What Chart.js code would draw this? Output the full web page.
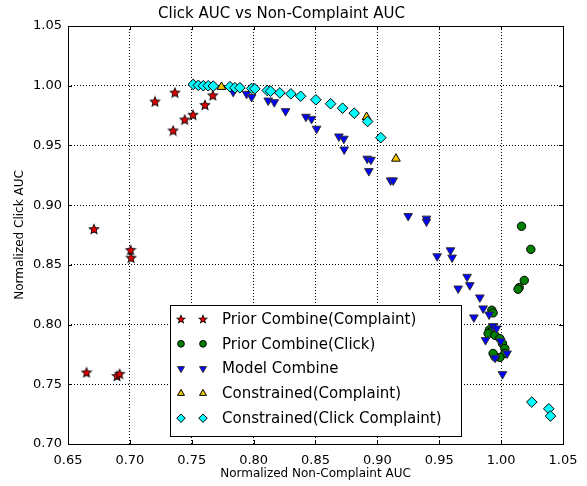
<!DOCTYPE html>
<html>
<head>
<meta charset="utf-8">
<script src="https://cdn.jsdelivr.net/npm/chart.js@4/dist/chart.umd.min.js"></script>
<style>
    html, body { margin: 0; padding: 0; background: #fff; }
    #wrap { width: 587px; height: 486px; }
</style>
</head>
<body>
<div id="wrap"><canvas id="canvChart" width="587" height="486"></canvas></div>
<script>
// Prior Combine(Complaint)
var priorComplaintX = [0.665, 0.671, 0.6896, 0.6917, 0.7006, 0.701, 0.7203, 0.735, 0.7364, 0.7443, 0.751, 0.7607, 0.767];
var priorComplaintY = [0.760, 0.880, 0.757, 0.7588, 0.8625, 0.856, 0.9868, 0.9625, 0.9943, 0.9717, 0.9757, 0.984, 0.992];

// Prior Combine(Click)
var priorClickX = [1.0165, 1.024, 1.0187, 1.0146, 1.0137, 0.9925, 0.9935, 0.9905, 0.9917, 0.9895, 0.995, 0.999, 1.0011, 1.003, 1.003, 0.999, 0.995, 0.9935];
var priorClickY = [0.8823, 0.863, 0.837, 0.831, 0.8296, 0.812, 0.8098, 0.7955, 0.7939, 0.7925, 0.791, 0.7883, 0.7841, 0.780, 0.7758, 0.7725, 0.773, 0.7758];

// Model Combine
var modelX = [0.7835, 0.7943, 0.7984, 0.8118, 0.8167, 0.8258, 0.8423, 0.8468, 0.8509, 0.8689, 0.8729, 0.8732, 0.8918, 0.8948, 0.8931, 0.9107, 0.9128, 0.9249, 0.9397, 0.9397, 0.9483, 0.9591, 0.9604, 0.9725, 0.9653, 0.9747, 0.9828, 0.9855, 0.978, 0.9903, 0.9935, 0.9963, 0.9874, 0.9997, 1.0048, 0.9951, 1.0011];
var modelY = [0.9948, 0.9932, 0.9905, 0.9876, 0.9862, 0.9787, 0.974, 0.9722, 0.964, 0.9575, 0.9556, 0.9466, 0.9389, 0.938, 0.9285, 0.9207, 0.9207, 0.8909, 0.8887, 0.8862, 0.8572, 0.8622, 0.8561, 0.84, 0.8302, 0.833, 0.8227, 0.8135, 0.806, 0.8084, 0.7987, 0.7967, 0.787, 0.7861, 0.7758, 0.7722, 0.7585];

// Constrained(Complaint)
var consComplaintX = [0.774, 0.8913, 0.915];
var consComplaintY = [0.999, 0.9738, 0.9389];

// Constrained(Click Complaint)
var consClickX = [0.7512, 0.7553, 0.7593, 0.7633, 0.7674, 0.7809, 0.7849, 0.7889, 0.7984, 0.801, 0.811, 0.8137, 0.8212, 0.8301, 0.838, 0.8503, 0.8622, 0.8719, 0.8813, 0.8921, 0.9028, 1.0248, 1.0385, 1.0399];
var consClickY = [1.0011, 1.0003, 1.000, 1.000, 0.9997, 0.9992, 0.9983, 0.9983, 0.9977, 0.9974, 0.996, 0.9954, 0.994, 0.9932, 0.9912, 0.9882, 0.9849, 0.9812, 0.977, 0.970, 0.9565, 0.7351, 0.7295, 0.7234];

var seriesLabels = ['Prior Combine(Complaint)', 'Prior Combine(Click)', 'Model Combine', 'Constrained(Complaint)', 'Constrained(Click Complaint)'];

var FONT = "'DejaVu Sans', 'Liberation Sans', sans-serif";
var _chart;

function toPoints(xs, ys) {
    var pts = [];
    for (var i = 0; i < xs.length; i++) {
        pts.push({x: xs[i], y: ys[i]});
    }
    return pts;
}

// filled five point star, like matplotlib's '*' marker
function buildStar(size, ro) {
    var c = document.createElement('canvas');
    c.width = size;
    c.height = size;
    var ctx = c.getContext('2d');
    var cx = size / 2, cy = size / 2 + 0.4, ri = ro * 0.45;
    ctx.beginPath();
    for (var i = 0; i < 10; i++) {
        var r = (i % 2 === 0) ? ro : ri;
        var a = -Math.PI / 2 + i * Math.PI / 5;
        var px = cx + r * Math.cos(a), py = cy + r * Math.sin(a);
        if (i === 0) ctx.moveTo(px, py); else ctx.lineTo(px, py);
    }
    ctx.closePath();
    ctx.lineJoin = 'miter';
    ctx.lineWidth = 1.6;
    ctx.strokeStyle = '#000';
    ctx.stroke();
    ctx.fillStyle = '#e00000';
    ctx.fill();
    return c;
}

var starImg = buildStar(12, 4.1);
var starImgSmall = buildStar(10, 3.2);

function buildDatasets() {
    return [{
        label: seriesLabels[0],
        data: toPoints(priorComplaintX, priorComplaintY),
        pointStyle: starImg,
        legendStyle: starImgSmall,
        pointRadius: 5,
        order: 5
    }, {
        label: seriesLabels[1],
        data: toPoints(priorClickX, priorClickY),
        pointStyle: 'circle',
        pointRadius: 4.2,
        backgroundColor: '#008000',
        borderColor: '#000',
        borderWidth: 1,
        order: 4
    }, {
        label: seriesLabels[2],
        data: toPoints(modelX, modelY),
        pointStyle: 'triangle',
        rotation: 180,
        pointRadius: 5,
        backgroundColor: '#0000ff',
        borderColor: '#333',
        borderWidth: 1,
        order: 3
    }, {
        label: seriesLabels[3],
        data: toPoints(consComplaintX, consComplaintY),
        pointStyle: 'triangle',
        rotation: 0,
        pointRadius: 5,
        backgroundColor: '#f2c500',
        borderColor: '#000',
        borderWidth: 1,
        order: 2
    }, {
        label: seriesLabels[4],
        data: toPoints(consClickX, consClickY),
        pointStyle: 'rectRot',
        pointRadius: 5.3,
        backgroundColor: '#00ffff',
        borderColor: '#000',
        borderWidth: 1,
        order: 1
    }];
}

function drawLegendMarker(ctx, ds, x, y) {
    var opts = {
        pointStyle: ds.legendStyle || ds.pointStyle,
        radius: ds.pointRadius * 0.8,
        rotation: ds.rotation || 0,
        borderWidth: ds.borderWidth || 0
    };
    ctx.save();
    ctx.fillStyle = ds.backgroundColor || '#000';
    ctx.strokeStyle = ds.borderColor || '#000';
    ctx.lineWidth = ds.borderWidth || 0;
    Chart.helpers.drawPoint(ctx, opts, x, y);
    ctx.restore();
}

var framePlugin = {
    id: 'framePlugin',
    afterDraw: function (chart) {
        var ctx = chart.ctx, a = chart.chartArea;
        var xs = chart.scales.x, ys = chart.scales.y;
        ctx.save();
        ctx.strokeStyle = '#000';
        ctx.lineWidth = 1;
        // inward ticks on all four sides
        ctx.beginPath();
        xs.ticks.forEach(function (t) {
            var px = Math.round(xs.getPixelForValue(t.value)) + 0.5;
            ctx.moveTo(px, a.bottom); ctx.lineTo(px, a.bottom - 4);
            ctx.moveTo(px, a.top); ctx.lineTo(px, a.top + 4);
        });
        ys.ticks.forEach(function (t) {
            var py = Math.round(ys.getPixelForValue(t.value)) + 0.5;
            ctx.moveTo(a.left, py); ctx.lineTo(a.left + 4, py);
            ctx.moveTo(a.right, py); ctx.lineTo(a.right - 4, py);
        });
        ctx.stroke();
        ctx.strokeRect(Math.round(a.left) + 0.5, Math.round(a.top) + 0.5,
            Math.round(a.right - a.left), Math.round(a.bottom - a.top));

        // legend box
        var bx = 170, by = 305, bw = 291, bh = 131;
        ctx.fillStyle = '#fff';
        ctx.fillRect(bx, by, bw, bh);
        ctx.strokeRect(bx + 0.5, by + 0.5, bw, bh);
        ctx.font = '15px ' + FONT;
        ctx.textBaseline = 'middle';
        ctx.textAlign = 'left';
        chart.data.datasets.forEach(function (ds, i) {
            var ry = by + 14 + i * 24.8;
            drawLegendMarker(ctx, ds, 181, ry);
            drawLegendMarker(ctx, ds, 203, ry);
            ctx.fillStyle = '#000';
            ctx.fillText(ds.label, 222, ry + 1);
        });
        ctx.restore();
    }
};

function buildChart() {
    var ctx = document.getElementById('canvChart').getContext('2d');
    _chart = new Chart(ctx, {
        type: 'scatter',
        data: { datasets: buildDatasets() },
        options: {
            responsive: false,
            animation: false,
            devicePixelRatio: 1,
            layout: { padding: { left: 0, right: 24, top: 0, bottom: 0 } },
            plugins: {
                legend: { display: false },
                tooltip: { enabled: false },
                title: {
                    display: true,
                    text: 'Click AUC vs Non-Complaint AUC',
                    color: '#000',
                    font: { family: FONT, size: 15, weight: 'normal' },
                    padding: { top: 5, bottom: 3 }
                }
            },
            scales: {
                x: {
                    type: 'linear',
                    min: 0.65,
                    max: 1.05,
                    afterFit: function (scale) { scale.height = 42; },
                    ticks: {
                        stepSize: 0.05,
                        color: '#000',
                        padding: 9,
                        font: { family: FONT, size: 13 },
                        callback: function (v) { return Number(v).toFixed(2); }
                    },
                    grid: { color: '#000', lineWidth: 1, drawTicks: false },
                    border: { display: false, dash: [1, 2] },
                    title: {
                        display: true,
                        text: 'Normalized Non-Complaint AUC',
                        color: '#000',
                        font: { family: FONT, size: 12 },
                        padding: { top: 0, bottom: 5 }
                    }
                },
                y: {
                    type: 'linear',
                    min: 0.70,
                    max: 1.05,
                    afterFit: function (scale) { scale.width = 68; },
                    ticks: {
                        stepSize: 0.05,
                        color: '#000',
                        padding: 6,
                        font: { family: FONT, size: 13 },
                        callback: function (v) { return Number(v).toFixed(2); }
                    },
                    grid: { color: '#000', lineWidth: 1, drawTicks: false },
                    border: { display: false, dash: [1, 2] },
                    title: {
                        display: true,
                        text: 'Normalized Click AUC',
                        color: '#000',
                        font: { family: FONT, size: 12 },
                        padding: { top: 13, bottom: 0 }
                    }
                }
            }
        },
        plugins: [framePlugin]
    });
}

buildChart();
</script>
</body>
</html>
